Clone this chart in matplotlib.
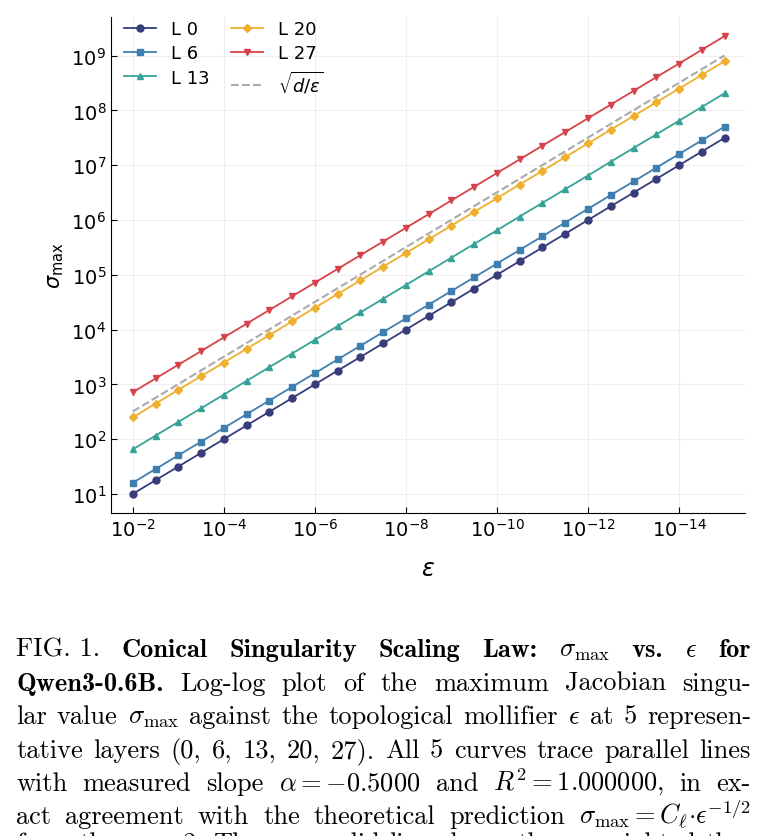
import matplotlib
matplotlib.use("Agg")
import matplotlib.pyplot as plt

plt.rcParams['mathtext.fontset'] = 'dejavusans'
plt.rcParams['axes.formatter.use_mathtext'] = True

# epsilon values (half-decade steps, 1e-2 .. 1e-15)
eps = [1e-2, 3.16e-3, 1e-3, 3.16e-4, 1e-4, 3.16e-5, 1e-5, 3.16e-6, 1e-6,
       3.16e-7, 1e-7, 3.16e-8, 1e-8, 3.16e-9, 1e-9, 3.16e-10, 1e-10,
       3.16e-11, 1e-11, 3.16e-12, 1e-12, 3.16e-13, 1e-13, 3.16e-14, 1e-14,
       3.16e-15, 1e-15]

L0 = [1.00e1, 1.78e1, 3.16e1, 5.62e1, 1.00e2, 1.78e2, 3.16e2, 5.62e2,
      1.00e3, 1.78e3, 3.16e3, 5.62e3, 1.00e4, 1.78e4, 3.16e4, 5.62e4,
      1.00e5, 1.78e5, 3.16e5, 5.62e5, 1.00e6, 1.78e6, 3.16e6, 5.62e6,
      1.00e7, 1.78e7, 3.16e7]
L6 = [1.60e1, 2.85e1, 5.06e1, 9.00e1, 1.60e2, 2.85e2, 5.06e2, 9.00e2,
      1.60e3, 2.85e3, 5.06e3, 9.00e3, 1.60e4, 2.85e4, 5.06e4, 9.00e4,
      1.60e5, 2.85e5, 5.06e5, 9.00e5, 1.60e6, 2.85e6, 5.06e6, 9.00e6,
      1.60e7, 2.85e7, 5.06e7]
L13 = [6.5e1, 1.16e2, 2.06e2, 3.66e2, 6.5e2, 1.16e3, 2.06e3, 3.66e3,
       6.5e3, 1.16e4, 2.06e4, 3.66e4, 6.5e4, 1.16e5, 2.06e5, 3.66e5,
       6.5e5, 1.16e6, 2.06e6, 3.66e6, 6.5e6, 1.16e7, 2.06e7, 3.66e7,
       6.5e7, 1.16e8, 2.06e8]
L20 = [2.50e2, 4.45e2, 7.91e2, 1.41e3, 2.50e3, 4.45e3, 7.91e3, 1.41e4,
       2.50e4, 4.45e4, 7.91e4, 1.41e5, 2.50e5, 4.45e5, 7.91e5, 1.41e6,
       2.50e6, 4.45e6, 7.91e6, 1.41e7, 2.50e7, 4.45e7, 7.91e7, 1.41e8,
       2.50e8, 4.45e8, 7.91e8]
L27 = [7.2e2, 1.28e3, 2.28e3, 4.05e3, 7.2e3, 1.28e4, 2.28e4, 4.05e4,
       7.2e4, 1.28e5, 2.28e5, 4.05e5, 7.2e5, 1.28e6, 2.28e6, 4.05e6,
       7.2e6, 1.28e7, 2.28e7, 4.05e7, 7.2e7, 1.28e8, 2.28e8, 4.05e8,
       7.2e8, 1.28e9, 2.28e9]
ref = [3.2e2, 5.69e2, 1.01e3, 1.80e3, 3.2e3, 5.69e3, 1.01e4, 1.80e4,
       3.2e4, 5.69e4, 1.01e5, 1.80e5, 3.2e5, 5.69e5, 1.01e6, 1.80e6,
       3.2e6, 5.69e6, 1.01e7, 1.80e7, 3.2e7, 5.69e7, 1.01e8, 1.80e8,
       3.2e8, 5.69e8, 1.01e9]

series = [("L 0", L0, "#363d7a", "o"), ("L 6", L6, "#3f7fb0", "s"),
          ("L 13", L13, "#36a396", "^"), ("L 20", L20, "#eeb02e", "D"),
          ("L 27", L27, "#d6434a", "v")]

fig = plt.figure(figsize=(7.66, 8.37), dpi=100)
ax = fig.add_axes([0.145, 0.386, 0.828, 0.592])
handles = {}
for name, vals, col, mk in series:
    ms = 5 if mk != "D" else 4.5
    h, = ax.plot(eps, vals, color=col, marker=mk, ms=ms, lw=1.3, label=name)
    handles[name] = h
hr, = ax.plot(eps, ref, color="#aaaaaa", ls="--", lw=1.5,
              label=r"$\sqrt{d/\epsilon}$")
ax.set_xscale("log")
ax.set_yscale("log")
ax.set_xlim(3e-2, 3.5e-16)
ax.set_ylim(4.5, 5e9)
ax.set_xticks([1e-2, 1e-4, 1e-6, 1e-8, 1e-10, 1e-12, 1e-14])
ax.set_yticks([1e1, 1e2, 1e3, 1e4, 1e5, 1e6, 1e7, 1e8, 1e9])
ax.minorticks_off()
ax.grid(True, color="#eeeeee", lw=0.8)
for s in ["top", "right"]:
    ax.spines[s].set_visible(False)
ax.tick_params(direction="in", labelsize=14, length=4)
ax.set_xlabel(r"$\epsilon$", fontsize=17, labelpad=12)
ax.set_ylabel(r"$\sigma_{\rm max}$", fontsize=15)
order = [handles["L 0"], handles["L 6"], handles["L 13"],
         handles["L 20"], handles["L 27"], hr]
ax.legend(order, [h.get_label() for h in order], ncol=2, frameon=False,
          fontsize=13, loc="upper left", bbox_to_anchor=(0.0, 1.02),
          handlelength=1.8, columnspacing=1.2, labelspacing=0.35,
          borderaxespad=0.3)

# caption, word-justified
R, B = "cmr10", "cmb10"
lines = [
    [("FIG. 1.", R), ("Conical", B), ("Singularity", B), ("Scaling", B), ("Law:", B),
     (r"$\sigma_{\rm max}$", R), ("vs.", B), (r"$\epsilon$", R), ("for", B)],
    [("Qwen3-0.6B.", B), ("Log-log", R), ("plot", R), ("of", R), ("the", R),
     ("maximum", R), ("Jacobian", R), ("singu-", R)],
    [("lar", R), ("value", R), (r"$\sigma_{\rm max}$", R), ("against", R), ("the", R),
     ("topological", R), ("mollifier", R), (r"$\epsilon$", R), ("at", R), ("5", R),
     ("represen-", R)],
    [("tative", R), ("layers", R), ("(0,", R), ("6,", R), ("13,", R), ("20,", R),
     ("27).", R), ("All", R), ("5", R), ("curves", R), ("trace", R), ("parallel", R),
     ("lines", R)],
    [("with", R), ("measured", R), ("slope", R), (r"$\alpha = -0.5000$", R), ("and", R),
     (r"$R^2 = 1.000000$,", R), ("in", R), ("ex-", R)],
    [("act", R), ("agreement", R), ("with", R), ("the", R), ("theoretical", R),
     ("prediction", R), (r"$\sigma_{\rm max} = C_\ell{\cdot}\epsilon^{-1/2}$", R)],
    [("from", R), ("theorem", R), ("2.", R), ("The", R), ("grey", R), ("solid", R),
     ("line", R), ("shows", R), ("the", R), ("unweighted", R), ("the-", R)],
]
ys = [651, 685, 718, 752, 785, 818, 845]
x0, x1 = 16, 751
fig.canvas.draw()
rend = fig.canvas.get_renderer()
for toks, yp in zip(lines, ys):
    ts = [fig.text(0, 0, w, fontfamily=f, fontsize=19, va="baseline",
                   math_fontfamily="cm")
          for w, f in toks]
    ws = [t.get_window_extent(rend).width for t in ts]
    gap = (x1 - x0 - sum(ws)) / (len(ts) - 1)
    x = x0
    for t, w in zip(ts, ws):
        t.set_position((x / 766, 1 - (yp + 6) / 837))
        x += w + gap

fig.savefig("out.png", dpi=100)
